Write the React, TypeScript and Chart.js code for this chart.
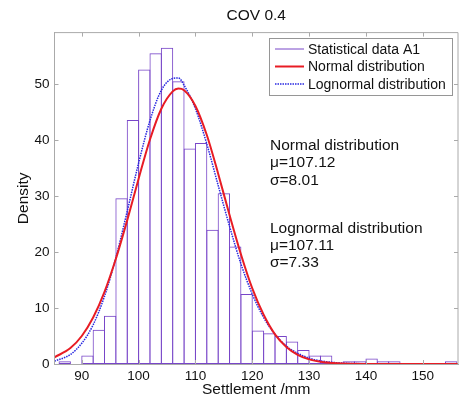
import React, { useEffect, useRef } from "react";
import { Chart, registerables } from "chart.js";

Chart.register(...registerables);

// Histogram bins (2 mm wide), centers and densities
const binCenters = [87, 89, 91, 93, 95, 97, 99, 101, 103, 105, 107, 109, 111, 113, 115, 117, 119, 121, 123, 125, 127, 129, 131, 133, 135, 137, 139, 141, 143, 145, 147, 149, 151, 153, 155];
const binDensity = [0.5, 0, 1.5, 6.1, 8.6, 29.6, 43.6, 52.6, 55.5, 56.5, 50.5, 38.5, 39.5, 24.0, 30.5, 21.0, 12.5, 6.0, 5.5, 5.0, 4.0, 2.5, 1.5, 1.5, 0, 0.5, 0.5, 1.0, 0.5, 0.5, 0, 0, 0, 0, 0.5];

// Fitted curves
const curveX = [85.2, 88, 90, 92, 94, 96, 98, 100, 102, 104, 106, 107, 108, 110, 112, 114, 116, 118, 120, 122, 124, 126, 128, 130, 132, 135, 140, 145, 150, 156.2];
const normalY = [1.2, 2.85, 5.0, 8.3, 12.9, 18.8, 25.7, 33.1, 40.1, 45.6, 48.7, 49.2, 48.9, 46.1, 40.9, 34.0, 26.6, 19.6, 13.5, 8.8, 5.3, 3.05, 1.64, 0.83, 0.39, 0.12, 0.01, 0, 0, 0];
const lognormalY = [0.5, 1.7, 3.7, 7.0, 12.1, 19.0, 27.3, 35.9, 43.5, 48.9, 51.0, 51.1, 49.8, 45.6, 39.3, 31.9, 24.6, 17.9, 12.5, 8.3, 5.3, 3.2, 1.9, 1.06, 0.57, 0.22, 0.04, 0, 0, 0];

const xTicks = [90, 100, 110, 120, 130, 140, 150];
const yTicks = [0, 10, 20, 30, 40, 50];

const legendItems = ["Statistical data A1", "Normal distribution", "Lognormal distribution"];
const normalText = ["Normal distribution", "\u03bc=107.12", "\u03c3=8.01"];
const lognormalText = ["Lognormal distribution", "\u03bc=107.11", "\u03c3=7.33"];

const PURPLE = "rgb(120,70,200)";
const RED = "rgb(232,28,36)";
const BLUE = "rgb(40,40,225)";
const AXIS = "rgb(170,170,170)";
const FONT = "'Liberation Sans', Arial, Helvetica, sans-serif";

const decorPlugin = {
  id: "decor",
  afterDraw(chart: any) {
    const { ctx, chartArea: a, scales } = chart;
    const xs = scales.x;
    const ys = scales.y;
    ctx.save();
    ctx.strokeStyle = AXIS;
    ctx.lineWidth = 1;
    ctx.beginPath();
    ctx.moveTo(a.left, a.bottom);
    ctx.lineTo(a.left, a.top);
    ctx.lineTo(a.right, a.top);
    ctx.lineTo(a.right, a.bottom);
    ctx.stroke();
    ctx.beginPath();
    xTicks.forEach((v) => {
      const px = Math.round(xs.getPixelForValue(v)) + 0.5;
      ctx.moveTo(px, a.top);
      ctx.lineTo(px, a.top + 4);
      ctx.moveTo(px, a.bottom);
      ctx.lineTo(px, a.bottom - 4);
    });
    yTicks.forEach((v) => {
      const py = Math.round(ys.getPixelForValue(v)) + 0.5;
      ctx.moveTo(a.left, py);
      ctx.lineTo(a.left + 4, py);
      ctx.moveTo(a.right, py);
      ctx.lineTo(a.right - 4, py);
    });
    ctx.stroke();

    // legend
    const lx = 269, ly = 38, lw = 183, lh = 57;
    ctx.fillStyle = "#fff";
    ctx.fillRect(lx, ly, lw, lh);
    ctx.strokeStyle = "rgb(150,150,150)";
    ctx.strokeRect(lx + 0.5, ly + 0.5, lw, lh);
    const rows = [49, 66.5, 84];
    const styles = [
      { c: PURPLE, w: 1, d: [] as number[] },
      { c: RED, w: 2, d: [] as number[] },
      { c: BLUE, w: 1.5, d: [1.5, 1] },
    ];
    ctx.font = `14px ${FONT}`;
    ctx.textBaseline = "middle";
    ctx.textAlign = "left";
    legendItems.forEach((t, i) => {
      const s = styles[i];
      ctx.strokeStyle = s.c;
      ctx.lineWidth = s.w;
      ctx.setLineDash(s.d);
      ctx.beginPath();
      ctx.moveTo(275, rows[i]);
      ctx.lineTo(304, rows[i]);
      ctx.stroke();
      ctx.setLineDash([]);
      ctx.fillStyle = "#111";
      ctx.fillText(t, 308, rows[i] + 1);
    });

    ctx.font = `15.5px ${FONT}`;
    ctx.fillStyle = "#111";
    normalText.forEach((t, i) => ctx.fillText(t, 270, 146 + i * 17.2));
    lognormalText.forEach((t, i) => ctx.fillText(t, 270, 228.5 + i * 17.2));
    ctx.restore();
  },
};

export default function App() {
  const ref = useRef<HTMLCanvasElement>(null);
  useEffect(() => {
    if (!ref.current) return;
    const chart = new Chart(ref.current, {
      type: "bar",
      data: {
        datasets: [
          {
            type: "line",
            label: "Normal distribution",
            data: curveX.map((x, i) => ({ x, y: normalY[i] })),
            borderColor: RED,
            borderWidth: 2,
            pointRadius: 0,
            cubicInterpolationMode: "monotone",
            order: 1,
          } as any,
          {
            type: "line",
            label: "Lognormal distribution",
            data: curveX.map((x, i) => ({ x, y: lognormalY[i] })),
            borderColor: BLUE,
            borderWidth: 1.5,
            borderDash: [1.5, 1],
            pointRadius: 0,
            cubicInterpolationMode: "monotone",
            order: 2,
          } as any,
          {
            type: "bar",
            label: "Statistical data A1",
            data: binCenters.map((x, i) => ({ x, y: binDensity[i] })),
            backgroundColor: "rgba(255,255,255,0)",
            borderColor: PURPLE,
            borderWidth: 1,
            borderSkipped: false,
            barPercentage: 1.088,
            categoryPercentage: 1,
            grouped: false,
            order: 3,
          } as any,
        ],
      },
      options: {
        animation: false,
        responsive: false,
        maintainAspectRatio: false,
        layout: { padding: { left: 14, right: 1, top: 0, bottom: 4 } },
        plugins: {
          legend: { display: false },
          tooltip: { enabled: false },
          title: {
            display: true,
            text: "COV 0.4",
            fullSize: false,
            color: "#111",
            font: { family: FONT, size: 15.5, weight: "normal" },
            padding: { top: 6, bottom: 8 },
          },
        },
        scales: {
          x: {
            type: "linear",
            min: 85.2,
            max: 156.2,
            offset: false,
            grid: { display: false, drawTicks: false },
            border: { display: true, color: AXIS },
            ticks: {
              stepSize: 10,
              includeBounds: false,
              color: "#111",
              padding: 4,
              font: { family: FONT, size: 13.5 },
              maxRotation: 0,
            },
            title: {
              display: true,
              text: "Settlement /mm",
              color: "#111",
              font: { family: FONT, size: 15.5 },
              padding: { top: 0, bottom: 0 },
            },
            afterFit: (s: any) => {
              s.height = 35;
            },
          },
          y: {
            min: 0,
            max: 59.2,
            grid: { display: false, drawTicks: false },
            border: { display: true, color: AXIS },
            ticks: {
              stepSize: 10,
              includeBounds: false,
              color: "#111",
              padding: 5,
              font: { family: FONT, size: 13.5 },
            },
            title: {
              display: true,
              text: "Density",
              color: "#111",
              font: { family: FONT, size: 15.5 },
              padding: { top: 0, bottom: 0 },
            },
            afterFit: (s: any) => {
              s.width = 40.5;
            },
          },
        },
      },
      plugins: [decorPlugin],
    });
    return () => chart.destroy();
  }, []);
  return (
    <div style={{ position: "fixed", left: 0, top: 0, width: 459, height: 403, background: "#fff" }}>
      <canvas ref={ref} width={459} height={403} style={{ width: 459, height: 403 }} />
    </div>
  );
}
